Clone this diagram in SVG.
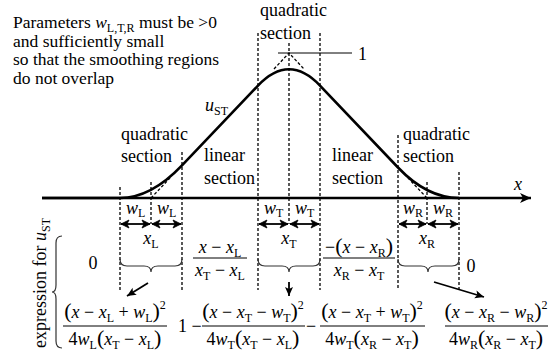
<svg xmlns="http://www.w3.org/2000/svg" width="555" height="354" viewBox="0 0 555 354" font-family="'Liberation Serif', 'Times New Roman', 'DejaVu Serif', serif">
<defs>
<style>
text{font-family:'Liberation Serif','Times New Roman','DejaVu Serif',serif;font-size:18px;fill:#000}
.i{font-style:italic}
.s{font-size:12px;font-style:normal}
.p{font-size:22px}
.note{font-size:17.5px}
.dash{stroke:#000;stroke-width:1.3;stroke-dasharray:3 2;fill:none}
.curve{stroke:#000;stroke-width:2.6;fill:none}
.dim{stroke:#000;stroke-width:1.8;fill:none;marker-start:url(#dh);marker-end:url(#dh)}
.brace{stroke:#333;stroke-width:1.2;fill:none}
.arr{stroke:#000;stroke-width:1.8;fill:none;marker-end:url(#ah)}
.bar{stroke:#000;stroke-width:1}
</style>
<marker id="dh" viewBox="-9 -5 10 10" refX="0" refY="0" markerWidth="10" markerHeight="10" markerUnits="userSpaceOnUse" orient="auto-start-reverse">
<path d="M-8,-4 L0,0 L-8,4 L-6,0 z" fill="#000" stroke="#000" stroke-width="0.8"/>
</marker>
<marker id="ah" viewBox="-10 -5 11 10" refX="0" refY="0" markerWidth="11" markerHeight="10" markerUnits="userSpaceOnUse" orient="auto">
<path d="M-9,-4 L0,0 L-9,4 L-7,0 z" fill="#000"/>
</marker>
<marker id="ax" viewBox="-12 -6 13 12" refX="0" refY="0" markerWidth="13" markerHeight="12" markerUnits="userSpaceOnUse" orient="auto">
<path d="M-11,-5 L0,0 L-11,5 L-8,0 z" fill="#000"/>
</marker>
</defs>

<g id="note">
<text class="note" x="13" y="28">Parameters <tspan class="i">w</tspan><tspan class="s" dy="4">L,T,R</tspan><tspan dy="-4"> must be &gt;0</tspan></text>
<text class="note" x="13" y="47">and sufficiently small</text>
<text class="note" x="13" y="65">so that the smoothing regions</text>
<text class="note" x="13" y="84">do not overlap</text>
</g>

<g id="guides">
<line class="dash" x1="120" y1="187" x2="120" y2="290"/>
<line class="dash" x1="151" y1="182" x2="151" y2="224"/>
<line class="dash" x1="182" y1="152" x2="182" y2="290"/>
<line class="dash" x1="258" y1="33" x2="258" y2="290"/>
<line class="dash" x1="289" y1="43" x2="289" y2="224"/>
<line class="dash" x1="320" y1="33" x2="320" y2="290"/>
<line class="dash" x1="398" y1="135" x2="398" y2="290"/>
<line class="dash" x1="427" y1="182" x2="427" y2="224"/>
<line class="dash" x1="459" y1="172" x2="459" y2="290"/>
<path class="dash" d="M151,198 L170,178"/>
<path class="dash" d="M427,198 L408,178"/>
<path class="dash" d="M274,69 L289,53 L304,69"/>
<line x1="278" y1="53" x2="352" y2="53" stroke="#000" stroke-width="1"/>
<text x="358" y="60">1</text>
</g>

<g id="plot">
<line x1="42" y1="198" x2="531" y2="198" stroke="#000" stroke-width="2.6" marker-end="url(#ax)"/>
<text class="i" x="514" y="190">x</text>
<path class="curve" d="M42,198 L120,198 Q151,198 182,165.4 L258,85.6 Q289,53 320,85.6 L398,167.5 Q427,198 459,198"/>
<text x="205" y="111"><tspan class="i">u</tspan><tspan class="s" dy="4">ST</tspan></text>
</g>

<g id="sections">
<text x="121" y="140">quadratic</text>
<text x="121" y="162">section</text>
<text x="204" y="161">linear</text>
<text x="204" y="184">section</text>
<text x="260" y="16">quadratic</text>
<text x="260" y="39">section</text>
<text x="332" y="161">linear</text>
<text x="332" y="184">section</text>
<text x="403" y="140">quadratic</text>
<text x="403" y="162">section</text>
</g>

<g id="dimensions">
<line class="dim" x1="121" y1="224" x2="150" y2="224"/>
<line class="dim" x1="152" y1="224" x2="181" y2="224"/>
<line class="dim" x1="259" y1="224" x2="288" y2="224"/>
<line class="dim" x1="290" y1="224" x2="319" y2="224"/>
<line class="dim" x1="399" y1="224" x2="426" y2="224"/>
<line class="dim" x1="428" y1="224" x2="458" y2="224"/>
<text x="126" y="214"><tspan class="i">w</tspan><tspan class="s" dy="3">L</tspan></text>
<text x="157" y="214"><tspan class="i">w</tspan><tspan class="s" dy="3">L</tspan></text>
<text x="264" y="214"><tspan class="i">w</tspan><tspan class="s" dy="3">T</tspan></text>
<text x="295" y="214"><tspan class="i">w</tspan><tspan class="s" dy="3">T</tspan></text>
<text x="403" y="214"><tspan class="i">w</tspan><tspan class="s" dy="3">R</tspan></text>
<text x="433" y="214"><tspan class="i">w</tspan><tspan class="s" dy="3">R</tspan></text>
<text x="151" y="244" text-anchor="middle"><tspan class="i">x</tspan><tspan class="s" dy="4">L</tspan></text>
<text x="289" y="244" text-anchor="middle"><tspan class="i">x</tspan><tspan class="s" dy="4">T</tspan></text>
<text x="427" y="244" text-anchor="middle"><tspan class="i">x</tspan><tspan class="s" dy="4">R</tspan></text>
</g>

<g id="braces">
<path class="brace" d="M120,259 Q120,266 127,266 L144,266 Q151,266 151,272 Q151,266 158,266 L175,266 Q182,266 182,259"/>
<path class="brace" d="M258,259 Q258,266 265,266 L282,266 Q289,266 289,272 Q289,266 296,266 L313,266 Q320,266 320,259"/>
<path class="brace" d="M398,259 Q398,266 405,266 L421,266 Q428,266 428,272 Q428,266 435,266 L452,266 Q459,266 459,259"/>
<path class="brace" d="M62,236 Q56,236 56,243 L56,285 Q56,292 52,292 Q56,292 56,299 L56,341 Q56,348 62,348"/>
<path class="arr" d="M148,283 L127,296"/>
<path class="arr" d="M289,282 L289,296"/>
<path class="arr" d="M434,282 L484,297"/>
</g>

<g id="expressions">
<text transform="translate(46,348) rotate(-90)">expression for <tspan class="i">u</tspan><tspan class="s" dy="4">ST</tspan></text>
<text x="93" y="269" text-anchor="middle">0</text>
<text x="471" y="272" text-anchor="middle">0</text>
<text x="220" y="253" text-anchor="middle"><tspan class="i">x</tspan> − <tspan class="i">x</tspan><tspan class="s" dy="4">L</tspan></text>
<line class="bar" x1="193" y1="258" x2="247" y2="258"/>
<text x="220" y="276" text-anchor="middle"><tspan class="i">x</tspan><tspan class="s" dy="4">T</tspan><tspan dy="-4"> − </tspan><tspan class="i">x</tspan><tspan class="s" dy="4">L</tspan></text>
<text x="359" y="253" text-anchor="middle">−<tspan class="p">(</tspan><tspan class="i">x</tspan> − <tspan class="i">x</tspan><tspan class="s" dy="4">R</tspan><tspan class="p" dy="-4">)</tspan></text>
<line class="bar" x1="323" y1="258" x2="395" y2="258"/>
<text x="359" y="276" text-anchor="middle"><tspan class="i">x</tspan><tspan class="s" dy="4">R</tspan><tspan dy="-4"> − </tspan><tspan class="i">x</tspan><tspan class="s" dy="4">T</tspan></text>

<text x="115" y="318" text-anchor="middle"><tspan class="p">(</tspan><tspan class="i">x</tspan> − <tspan class="i">x</tspan><tspan class="s" dy="4">L</tspan><tspan dy="-4"> + </tspan><tspan class="i">w</tspan><tspan class="s" dy="4">L</tspan><tspan class="p" dy="-4">)</tspan><tspan class="s" dy="-9">2</tspan></text>
<line class="bar" x1="63" y1="326" x2="167" y2="326"/>
<text x="115" y="345" text-anchor="middle">4<tspan class="i">w</tspan><tspan class="s" dy="4">L</tspan><tspan class="p" dy="-4">(</tspan><tspan class="i">x</tspan><tspan class="s" dy="4">T</tspan><tspan dy="-4"> − </tspan><tspan class="i">x</tspan><tspan class="s" dy="4">L</tspan><tspan class="p" dy="-4">)</tspan></text>

<text x="178" y="332">1 −</text>
<text x="253" y="318" text-anchor="middle"><tspan class="p">(</tspan><tspan class="i">x</tspan> − <tspan class="i">x</tspan><tspan class="s" dy="4">T</tspan><tspan dy="-4"> − </tspan><tspan class="i">w</tspan><tspan class="s" dy="4">T</tspan><tspan class="p" dy="-4">)</tspan><tspan class="s" dy="-9">2</tspan></text>
<line class="bar" x1="202" y1="326" x2="305" y2="326"/>
<text x="253" y="345" text-anchor="middle">4<tspan class="i">w</tspan><tspan class="s" dy="4">T</tspan><tspan class="p" dy="-4">(</tspan><tspan class="i">x</tspan><tspan class="s" dy="4">T</tspan><tspan dy="-4"> − </tspan><tspan class="i">x</tspan><tspan class="s" dy="4">L</tspan><tspan class="p" dy="-4">)</tspan></text>

<text x="306" y="332">−</text>
<text x="372" y="318" text-anchor="middle"><tspan class="p">(</tspan><tspan class="i">x</tspan> − <tspan class="i">x</tspan><tspan class="s" dy="4">T</tspan><tspan dy="-4"> + </tspan><tspan class="i">w</tspan><tspan class="s" dy="4">T</tspan><tspan class="p" dy="-4">)</tspan><tspan class="s" dy="-9">2</tspan></text>
<line class="bar" x1="320" y1="326" x2="425" y2="326"/>
<text x="372" y="345" text-anchor="middle">4<tspan class="i">w</tspan><tspan class="s" dy="4">T</tspan><tspan class="p" dy="-4">(</tspan><tspan class="i">x</tspan><tspan class="s" dy="4">R</tspan><tspan dy="-4"> − </tspan><tspan class="i">x</tspan><tspan class="s" dy="4">T</tspan><tspan class="p" dy="-4">)</tspan></text>

<text x="496" y="318" text-anchor="middle"><tspan class="p">(</tspan><tspan class="i">x</tspan> − <tspan class="i">x</tspan><tspan class="s" dy="4">R</tspan><tspan dy="-4"> − </tspan><tspan class="i">w</tspan><tspan class="s" dy="4">R</tspan><tspan class="p" dy="-4">)</tspan><tspan class="s" dy="-9">2</tspan></text>
<line class="bar" x1="445" y1="326" x2="548" y2="326"/>
<text x="496" y="345" text-anchor="middle">4<tspan class="i">w</tspan><tspan class="s" dy="4">R</tspan><tspan class="p" dy="-4">(</tspan><tspan class="i">x</tspan><tspan class="s" dy="4">R</tspan><tspan dy="-4"> − </tspan><tspan class="i">x</tspan><tspan class="s" dy="4">T</tspan><tspan class="p" dy="-4">)</tspan></text>
</g>
</svg>
